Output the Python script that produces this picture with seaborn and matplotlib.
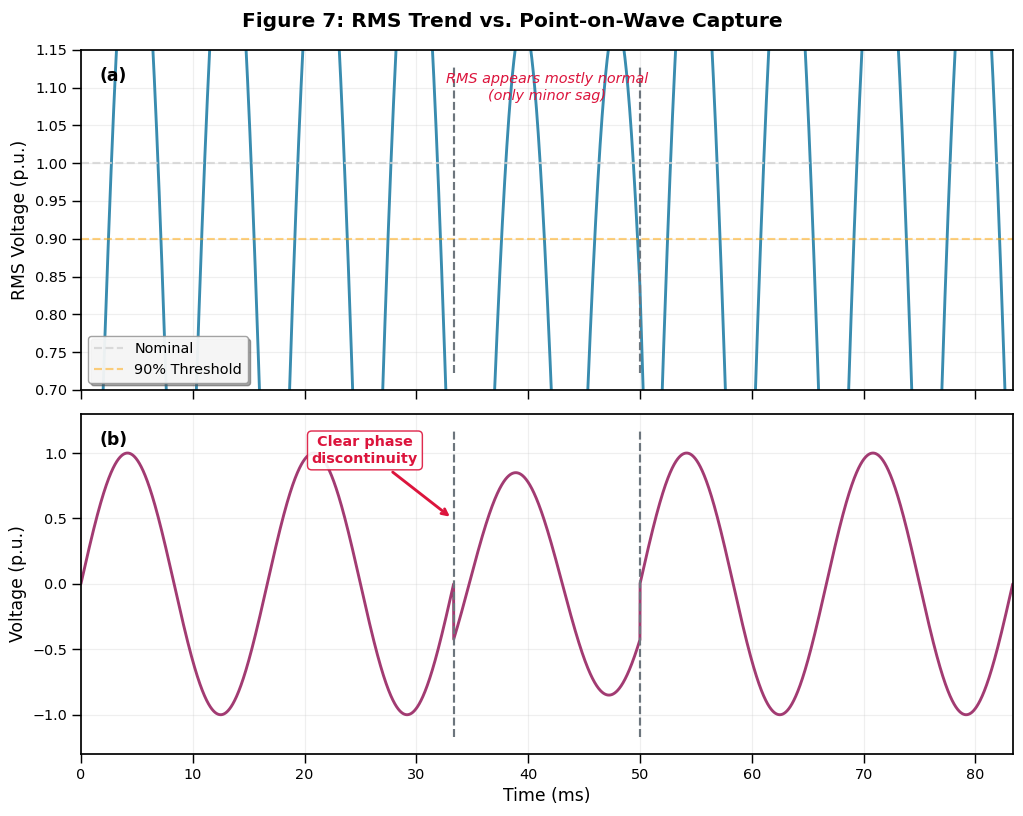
import numpy as np
import pandas as pd
import matplotlib
matplotlib.use("Agg")
import matplotlib.pyplot as plt
import seaborn as sns

# signal description (60 Hz, p.u.)
freq_hz = 60.0
t_end_ms = 83.333
seg_start = [0.0, 33.333, 50.0]
seg_end = [33.333, 50.0, 83.334]
seg_amp = [1.0, 0.85, 1.0]
seg_phase_deg = [0.0, -30.0, 0.0]
event_times = [33.333, 50.0]
rms_window_ms = 1.3
nominal_level = 1.0
threshold_level = 0.9

sns.set_style("ticks")
plt.rcParams["font.family"] = ["DejaVu Sans"]
for k in ["text.color", "axes.labelcolor", "xtick.color", "ytick.color"]:
    plt.rcParams[k] = "black"

t = np.linspace(0, t_end_ms, 8334)
dt = t[1] - t[0]
v = np.zeros_like(t)
for s, e, a, ph in zip(seg_start, seg_end, seg_amp, seg_phase_deg):
    m = (t >= s) & (t < e)
    v[m] = a * np.sin(2 * np.pi * freq_hz * t[m] / 1000 + np.deg2rad(ph))

# raw signal in sqrt(2) scale so that rms is 1 p.u. nominal
v_raw = np.sqrt(2) * v
win = int(round(rms_window_ms / dt))
rms = np.sqrt(pd.Series(v_raw ** 2).rolling(win, min_periods=1).mean().values)

df = pd.DataFrame({"t": t, "v": v, "rms": rms})

DPI = 103.6
fig, (ax1, ax2) = plt.subplots(2, 1, figsize=(1024 / DPI, 816 / DPI), dpi=DPI, sharex=True)
fig.subplots_adjust(left=0.079, right=0.989, top=0.939, bottom=0.076, hspace=0.07)

# (a) rms trend
sns.lineplot(data=df, x="t", y="rms", ax=ax1, color="#2E86AB", linewidth=2,
             estimator=None, alpha=0.95)
ax1.axhline(nominal_level, color="lightgray", linestyle="--", linewidth=1.5,
            alpha=0.8, label="Nominal")
ax1.axhline(threshold_level, color="orange", linestyle="--", linewidth=1.5,
            alpha=0.5, label="90% Threshold")
for et in event_times:
    ax1.axvline(et, ymin=0.05, ymax=0.95, color="#6C757D", linestyle="--", linewidth=1.5)
ax1.set_ylim(0.70, 1.15)
ax1.set_yticks(np.arange(0.70, 1.151, 0.05))
ax1.yaxis.set_major_formatter(matplotlib.ticker.FormatStrFormatter("%.2f"))
ax1.set_ylabel("RMS Voltage (p.u.)", fontsize=12)
ax1.set_xlabel("")
ax1.text(41.67, 1.10, "RMS appears mostly normal\n(only minor sag)", ha="center",
         va="center", fontsize=10, style="italic", color="crimson")
ax1.text(0.02, 0.95, "(a)", transform=ax1.transAxes, fontsize=12,
         fontweight="bold", va="top")
leg = ax1.legend(loc="lower left", fontsize=10, frameon=True, shadow=True,
                 fancybox=True, framealpha=0.9)
leg.get_frame().set_facecolor("white")
leg.get_frame().set_edgecolor("#999999")

# (b) point-on-wave
sns.lineplot(data=df, x="t", y="v", ax=ax2, color="#A23B72", linewidth=2,
             estimator=None)
for et in event_times:
    ax2.axvline(et, ymin=0.05, ymax=0.95, color="#6C757D", linestyle="--", linewidth=1.5)
ax2.set_ylim(-1.3, 1.3)
ax2.set_yticks([-1.0, -0.5, 0.0, 0.5, 1.0])
ax2.set_xlim(0, t_end_ms)
ax2.set_ylabel("Voltage (p.u.)", fontsize=12)
ax2.set_xlabel("Time (ms)", fontsize=12)
ax2.text(0.02, 0.95, "(b)", transform=ax2.transAxes, fontsize=12,
         fontweight="bold", va="top")
ax2.annotate("Clear phase\ndiscontinuity", xy=(33.2, 0.5), xytext=(25.4, 1.02),
             ha="center", va="center", fontsize=10, fontweight="bold", color="crimson",
             bbox=dict(boxstyle="round,pad=0.3", facecolor="white",
                       edgecolor="crimson", alpha=0.9),
             arrowprops=dict(arrowstyle="->", color="crimson", lw=2))

for ax in (ax1, ax2):
    ax.grid(True, alpha=0.3)
    ax.tick_params(axis="both", labelsize=10, length=6, width=1)
    for sp in ax.spines.values():
        sp.set_visible(True)
        sp.set_linewidth(1.2)
        sp.set_color("black")

fig.suptitle("Figure 7: RMS Trend vs. Point-on-Wave Capture", fontsize=14,
             fontweight="bold", y=0.985)

fig.savefig("out.png", dpi=DPI)
